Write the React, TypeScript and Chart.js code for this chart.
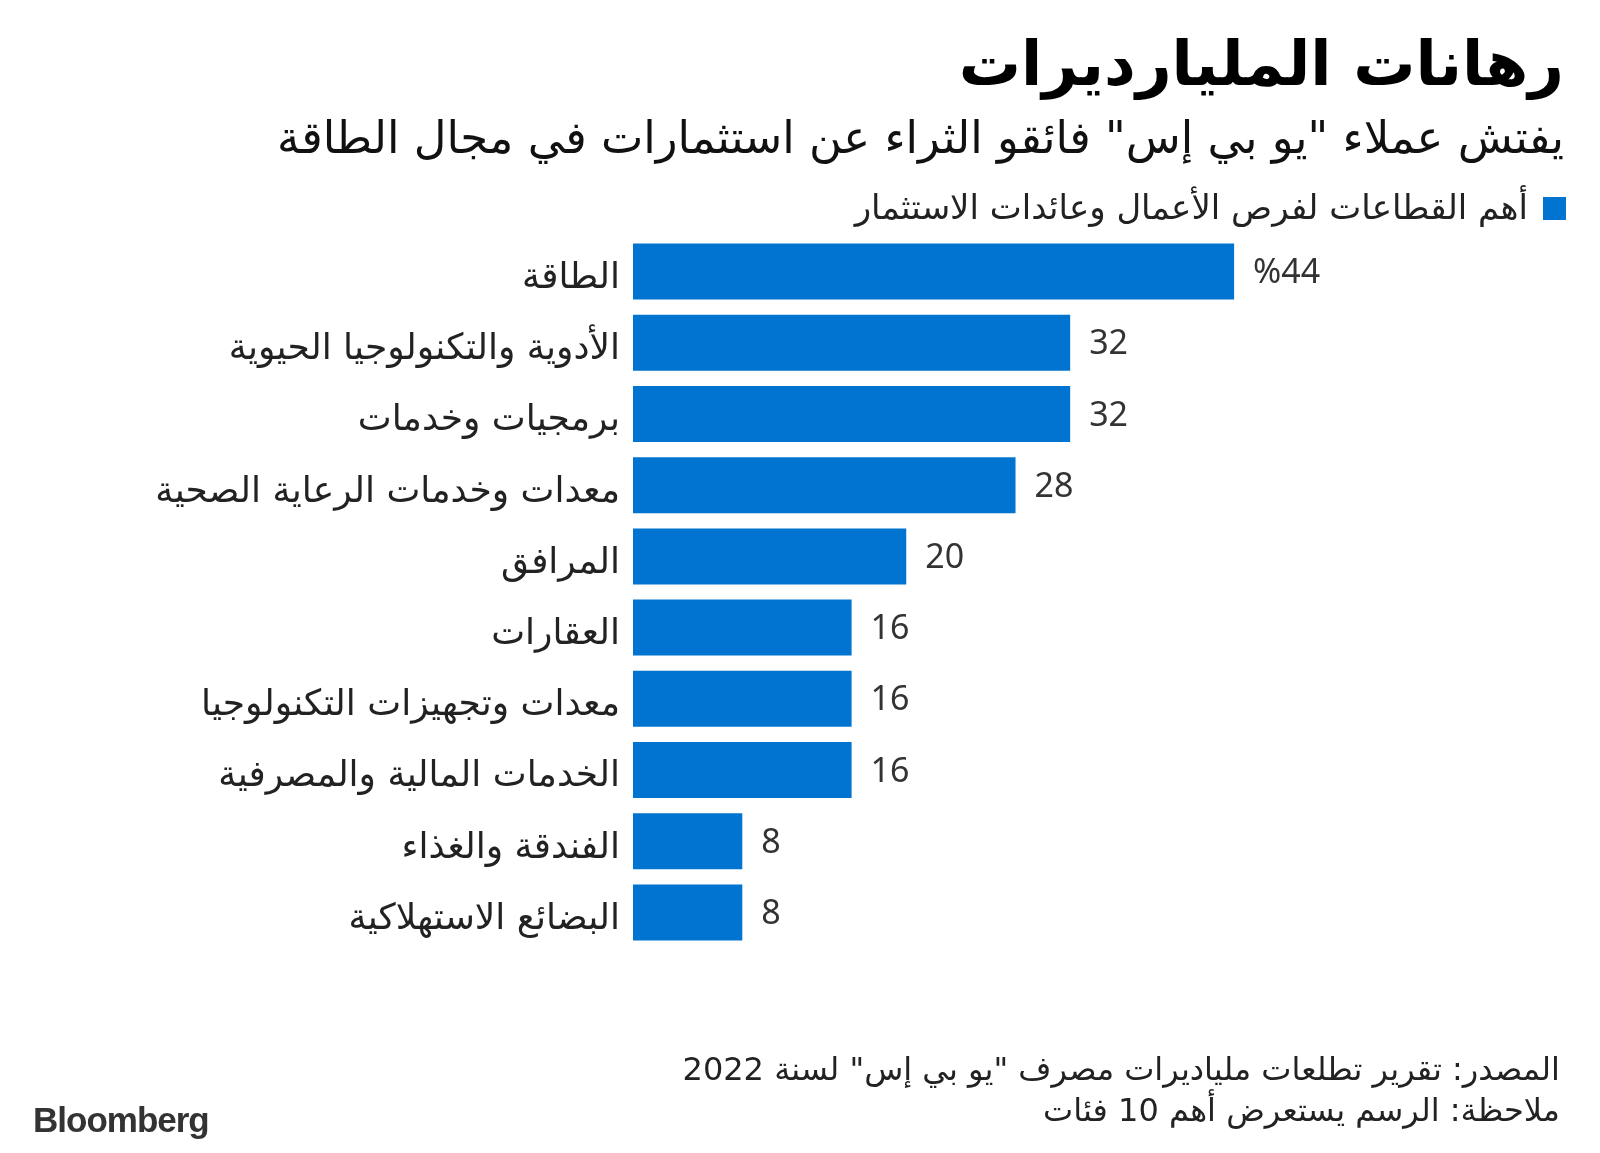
import React, { useEffect, useRef } from "react";
import { Chart, registerables } from "chart.js";

Chart.register(...registerables);

const title = "رهانات المليارديرات";
const subtitle = "يفتش عملاء \"يو بي إس\"  فائقو الثراء عن استثمارات في مجال الطاقة";
const legendLabel = "أهم القطاعات لفرص الأعمال وعائدات الاستثمار";
const sourceLine = "المصدر: تقرير تطلعات ملياديرات مصرف \"يو بي إس\" لسنة 2022";
const noteLine = "ملاحظة: الرسم يستعرض أهم 10 فئات";

const categories = [
  "الطاقة",
  "الأدوية والتكنولوجيا الحيوية",
  "برمجيات وخدمات",
  "معدات وخدمات الرعاية الصحية",
  "المرافق",
  "العقارات",
  "معدات وتجهيزات التكنولوجيا",
  "الخدمات المالية والمصرفية",
  "الفندقة والغذاء",
  "البضائع الاستهلاكية",
];
const values = [44, 32, 32, 28, 20, 16, 16, 16, 8, 8];

const BLUE = "#0074D0";
const FONT = "'DejaVu Sans', 'Noto Sans', sans-serif";

// Draws category labels (slightly lowered, as in the reference) and value labels
const labelsPlugin = {
  id: "barLabels",
  afterDatasetsDraw(chart: any) {
    const ctx = chart.ctx;
    const meta = chart.getDatasetMeta(0);
    const yScale = chart.scales.y;
    ctx.save();
    ctx.textBaseline = "middle";

    ctx.font = `36px ${FONT}`;
    ctx.fillStyle = "#222222";
    ctx.textAlign = "right";
    const labelX = yScale.right - 13;
    (chart.data.labels as string[]).forEach((lab: string, i: number) => {
      const y = yScale.getPixelForValue(i);
      ctx.fillText(lab, labelX, y + 7);
    });

    ctx.font = "34px 'Noto Sans', 'DejaVu Sans', sans-serif";
    ctx.fillStyle = "#333333";
    ctx.textAlign = "left";
    meta.data.forEach((bar: any, i: number) => {
      const v = values[i];
      const txt = i === 0 ? "%" + v : String(v);
      ctx.fillText(txt, bar.x + 19, bar.y + 2);
    });
    ctx.restore();
  },
};

export default function App() {
  const ref = useRef<HTMLCanvasElement | null>(null);

  useEffect(() => {
    const prevMargin = document.body.style.margin;
    document.body.style.margin = "0";
    const chart = new Chart(ref.current as HTMLCanvasElement, {
      type: "bar",
      data: {
        labels: categories,
        datasets: [
          {
            data: values,
            backgroundColor: BLUE,
            borderWidth: 0,
            barPercentage: 0.787,
            categoryPercentage: 1,
          },
        ],
      },
      options: {
        indexAxis: "y",
        responsive: false,
        animation: false,
        events: [],
        layout: { padding: { top: 236, bottom: 205, left: 0, right: 38 } },
        plugins: {
          legend: { display: false },
          title: { display: false },
          tooltip: { enabled: false },
        },
        scales: {
          x: { display: false, min: 0, max: 68 },
          y: {
            grid: { display: false, drawTicks: false },
            border: { display: false },
            ticks: { display: false },
            afterFit(scale: any) {
              scale.width = 633;
            },
          },
        },
      },
      plugins: [labelsPlugin],
    } as any);
    return () => {
      chart.destroy();
      document.body.style.margin = prevMargin;
    };
  }, []);

  const textBase: React.CSSProperties = {
    position: "absolute",
    direction: "rtl",
    whiteSpace: "nowrap",
    fontFamily: FONT,
    color: "#111111",
  };

  return (
    <div
      style={{
        position: "fixed",
        left: 0,
        top: 0,
        width: 1600,
        height: 1153,
        background: "#ffffff",
        overflow: "hidden",
      }}
    >
      <canvas
        ref={ref}
        width={1600}
        height={1153}
        style={{ position: "absolute", left: 0, top: 0, width: 1600, height: 1153 }}
      />
      <div
        style={{
          ...textBase,
          right: 36,
          top: 26,
          fontSize: 62,
          lineHeight: "76px",
          fontWeight: 700,
          color: "#000000",
        }}
      >
        {title}
      </div>
      <div style={{ ...textBase, right: 36, top: 111, fontSize: 45, lineHeight: "54px", color: "#111111" }}>
        {subtitle}
      </div>
      <div
        style={{
          position: "absolute",
          left: 1543,
          top: 197,
          width: 23,
          height: 23,
          background: BLUE,
        }}
      />
      <div style={{ ...textBase, right: 72, top: 187, fontSize: 34, lineHeight: "40px", color: "#222222" }}>
        {legendLabel}
      </div>
      <div style={{ ...textBase, right: 40, top: 1050, fontSize: 32, lineHeight: "38px", color: "#222222" }}>
        {sourceLine}
      </div>
      <div style={{ ...textBase, right: 40, top: 1091, fontSize: 32, lineHeight: "38px", color: "#222222" }}>
        {noteLine}
      </div>
      <div
        style={{
          position: "absolute",
          left: 33,
          top: 1100,
          fontFamily: "'Liberation Sans', Arial, sans-serif",
          fontWeight: 700,
          fontSize: 35,
          lineHeight: "40px",
          letterSpacing: -1,
          color: "#333333",
        }}
      >
        Bloomberg
      </div>
    </div>
  );
}
